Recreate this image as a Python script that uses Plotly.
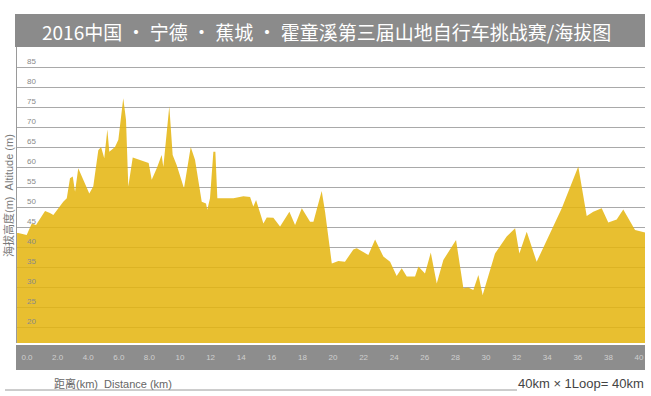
import plotly.graph_objects as go

# Elevation profile (km, m)
distance_km = [-0.65, -0.57, -0.02, 0.31, 0.59, 1.18, 1.50, 1.72, 2.37, 2.60, 2.81, 2.99,
               3.14, 3.35, 4.07, 4.33, 4.66, 4.84, 5.05, 5.25, 5.38, 5.75, 5.97, 6.29,
               6.47, 6.62, 6.91, 7.39, 7.82, 7.95, 8.15, 8.48, 8.80, 8.91, 9.30, 9.52,
               9.78, 10.11, 10.26, 10.70, 10.98, 11.42, 11.70, 11.78, 11.96, 12.18, 12.31,
               12.44, 13.49, 14.14, 14.58, 14.79, 14.97, 15.45, 15.67, 16.10, 16.54, 17.15,
               17.52, 17.96, 18.50, 18.72, 19.26, 19.48, 19.92, 20.35, 20.78, 21.33, 21.55,
               22.31, 22.75, 23.29, 23.73, 24.16, 24.49, 24.82, 25.36, 25.58, 26.01, 26.39,
               26.78, 27.21, 28.04, 28.52, 28.84, 29.17, 29.50, 29.78, 30.59, 31.35, 31.90,
               32.18, 32.66, 33.31, 34.40, 34.95, 36.03, 36.58, 37.01, 37.56, 37.99, 38.54,
               38.97, 39.74, 40.39]
altitude_m = [43.5, 43.5, 43.0, 45.9, 45.5, 49.0, 48.5, 48.0, 51.3, 52.2, 57.2, 57.6,
              53.8, 59.7, 53.4, 55.1, 64.2, 65.0, 62.2, 69.4, 63.8, 65.0, 66.8, 77.2,
              71.8, 55.1, 62.4, 61.8, 61.3, 61.0, 56.8, 59.7, 63.0, 60.0, 75.2, 63.0,
              60.5, 56.8, 54.7, 65.0, 61.8, 51.3, 50.9, 49.3, 52.2, 63.8, 63.8,
              52.2, 52.2, 52.7, 52.5, 50.1, 51.75, 45.9, 47.4, 47.3, 45.1, 48.8,
              45.5, 49.7, 46.3, 46.3, 54.0, 48.8, 35.9, 36.5, 36.3, 39.4, 39.7,
              38.0, 41.9, 37.6, 36.3, 32.75, 34.7, 32.6, 32.6, 35.1, 33.4, 38.6,
              30.9, 36.75, 41.75, 29.7, 29.9, 29.25, 33.0, 28.0, 38.4, 42.6, 44.7,
              38.4, 43.8, 36.3, 45.1, 49.7, 60.1, 47.75, 48.8, 49.7, 46.1, 46.9,
              49.4, 44.25, 43.6]

x_tick_vals = [0, 2, 4, 6, 8, 10, 12, 14, 16, 18, 20, 22, 24, 26, 28, 30, 32, 34, 36, 38, 40]
x_tick_text = ["0.0", "2.0", "4.0", "6.0", "8.0", "10", "12", "14", "16", "18", "20",
               "22", "24", "26", "28", "30", "32", "34", "36", "38", "40"]
y_tick_vals = [20, 25, 30, 35, 40, 45, 50, 55, 60, 65, 70, 75, 80, 85]
y_range = [16, 90]

title_text = "2016中国 · 宁德 · 蕉城 · 霍童溪第三届山地自行车挑战赛/海拔图"
x_label = "距离(km)  Distance (km)"
y_label = "海拔高度(m)  Altitude (m)"
loop_text = "40km × 1Loop= 40km"

W, H = 651, 396
ML, MR, MT, MB = 17, 6, 47, 53
PW, PH = W - ML - MR, H - MT - MB


def px(xp):
    return (xp - ML) / PW


def py(yp):
    return (H - MB - yp) / PH


fig = go.Figure()
fig.add_trace(go.Scatter(
    x=distance_km, y=altitude_m, mode="lines", fill="tozeroy",
    line=dict(color="rgba(0,0,0,0)", width=0),
    fillcolor="rgba(228,180,14,0.86)",
    hoverinfo="skip", showlegend=False,
))
# same profile on the overlaying axis that carries the tick labels (invisible)
fig.add_trace(go.Scatter(
    x=distance_km, y=altitude_m, mode="lines", yaxis="y2",
    line=dict(color="rgba(0,0,0,0)", width=0),
    hoverinfo="skip", showlegend=False,
))

shapes = [
    # title bar
    dict(type="rect", xref="paper", yref="paper", x0=px(15), x1=px(645), y0=py(47), y1=py(14),
         fillcolor="#8b8b8b", line=dict(width=0), layer="below"),
    # x axis band
    dict(type="rect", xref="paper", yref="paper", x0=px(16), x1=px(645), y0=py(345), y1=py(370),
         fillcolor="#8d8d8d", line=dict(width=0), layer="below"),
    # bottom rule
    dict(type="line", xref="paper", yref="paper", x0=px(5), x1=px(517), y0=py(390), y1=py(390),
         line=dict(color="#9a9a9a", width=1)),
]

annotations = [
    dict(text=title_text, xref="paper", yref="paper", x=px(326), y=py(31), showarrow=False,
         font=dict(family="Noto Sans CJK SC", size=19, color="#ffffff"),
         xanchor="center", yanchor="middle"),
    dict(text=x_label, xref="paper", yref="paper", x=px(52), y=py(383), showarrow=False,
         font=dict(family="Liberation Sans, Noto Sans CJK SC", size=11, color="#666666"),
         xanchor="left", yanchor="middle"),
    dict(text=loop_text, xref="paper", yref="paper", x=px(646), y=py(383), showarrow=False,
         font=dict(family="Liberation Sans", size=13, color="#444444"),
         xanchor="right", yanchor="middle"),
    dict(text=y_label, xref="paper", yref="paper", x=px(8), y=py(196), showarrow=False,
         textangle=-90, font=dict(family="Liberation Sans, Noto Sans CJK SC", size=11, color="#7a7a7a"),
         xanchor="center", yanchor="middle"),
]

fig.update_layout(
    width=W, height=H,
    margin=dict(l=ML, r=MR, t=MT, b=MB, pad=0),
    paper_bgcolor="#ffffff", plot_bgcolor="#ffffff",
    shapes=shapes, annotations=annotations,
    xaxis=dict(
        range=[-0.654, 40.39], tickvals=x_tick_vals, ticktext=x_tick_text,
        showgrid=False, zeroline=False, showline=False, ticks="",
        ticklabelstandoff=8, ticklabeloverflow="allow",
        tickfont=dict(family="Liberation Sans", size=8, color="#cfcfcf"),
    ),
    yaxis=dict(
        range=y_range, tickvals=y_tick_vals,
        showgrid=True, gridcolor="#a9a9a9", gridwidth=1, zeroline=False,
        showline=True, linecolor="#9a9a9a", linewidth=1, ticks="",
        showticklabels=False,
    ),
    yaxis2=dict(
        range=y_range, tickvals=y_tick_vals, overlaying="y", anchor="free", position=0,
        side="right", showgrid=False, zeroline=False, showline=False, ticks="",
        ticklabelposition="outside top", ticklabelstandoff=9, ticklabeloverflow="allow",
        tickfont=dict(family="Liberation Sans", size=8, color="#8a8a8a"),
    ),
)

fig.write_html("out.html", config={"displayModeBar": False},
               post_script="document.body.style.margin='0px';document.body.style.overflow='hidden';")
